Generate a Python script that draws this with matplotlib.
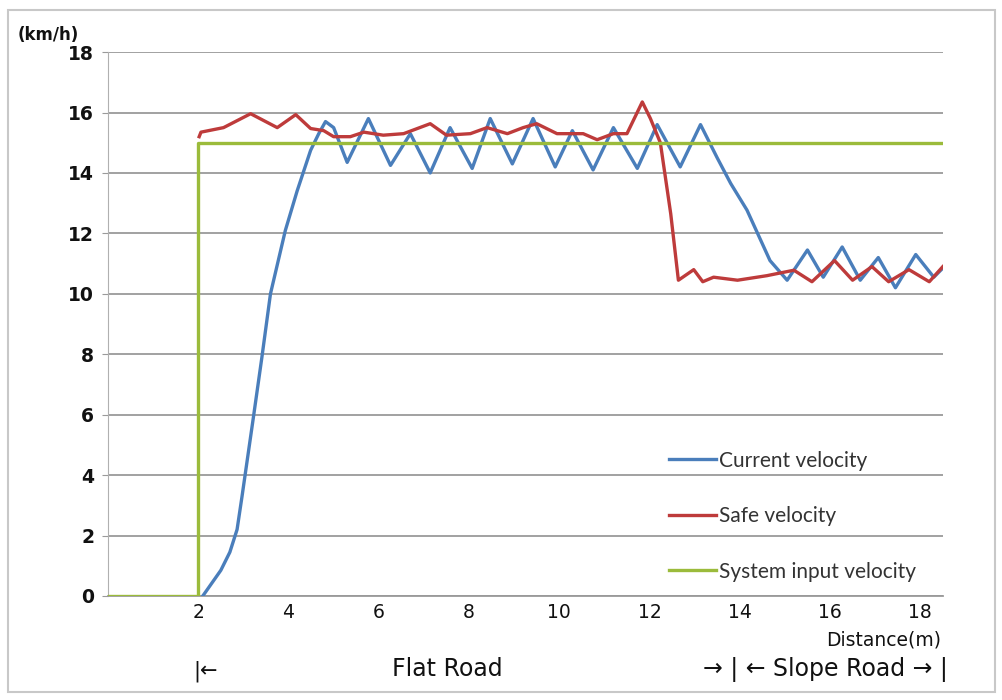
import matplotlib
matplotlib.use('Agg')
import matplotlib.pyplot as plt
from matplotlib.patches import Rectangle

# Current velocity (blue)
cur_x = [2.1, 2.5, 2.7, 2.86, 2.97, 3.23, 3.41, 3.6, 3.93, 4.19, 4.49, 4.67, 4.82, 5.0, 5.3,
         5.77, 6.26, 6.7, 7.14, 7.58, 8.07, 8.47, 8.96, 9.42, 9.91, 10.29, 10.75,
         11.2, 11.73, 12.17, 12.68, 13.13, 13.5, 13.8, 14.16, 14.67, 15.05, 15.5,
         15.85, 16.27, 16.67, 17.07, 17.45, 17.9, 18.3, 18.5]
cur_v = [0.0, 0.85, 1.45, 2.2, 3.3, 6.0, 7.9, 10.0, 12.1, 13.4, 14.75, 15.3, 15.7, 15.5, 14.35,
         15.8, 14.25, 15.3, 14.0, 15.5, 14.15, 15.8, 14.3, 15.8, 14.2, 15.4, 14.1,
         15.5, 14.15, 15.6, 14.2, 15.6, 14.5, 13.65, 12.77, 11.1, 10.45, 11.45,
         10.55, 11.55, 10.45, 11.2, 10.2, 11.3, 10.55, 10.85]

# Safe velocity (red)
safe_x = [2.02, 2.06, 2.56, 3.16, 3.75, 4.16, 4.49, 4.78, 5.0, 5.37, 5.67, 6.1, 6.55,
          7.14, 7.5, 8.03, 8.4, 8.85, 9.2, 9.5, 9.95, 10.53, 10.84, 11.2, 11.5, 11.84,
          12.02, 12.24, 12.47, 12.64, 12.98, 13.18, 13.42, 13.95, 14.6, 14.93, 15.2,
          15.6, 16.1, 16.5, 16.93, 17.3, 17.75, 18.2, 18.5]
safe_v = [15.2, 15.35, 15.5, 15.96, 15.5, 15.93, 15.47, 15.4, 15.2, 15.2, 15.35, 15.25, 15.3,
          15.63, 15.25, 15.3, 15.5, 15.3, 15.5, 15.63, 15.3, 15.3, 15.1, 15.3, 15.3, 16.35,
          15.8, 15.0, 12.65, 10.45, 10.8, 10.4, 10.55, 10.45, 10.6, 10.7, 10.78,
          10.4, 11.1, 10.45, 10.9, 10.4, 10.8, 10.4, 10.9]

# System input velocity (green)
sys_x = [0, 2, 2, 18.5]
sys_v = [0, 0, 15, 15]

y_ticks = [0, 2, 4, 6, 8, 10, 12, 14, 16, 18]
x_ticks = [2, 4, 6, 8, 10, 12, 14, 16, 18]

c_blue = '#4a7ebb'
c_red = '#be3b3b'
c_green = '#9bbb3b'
c_grid = '#9a9a9a'

fig = plt.figure(figsize=(10.03, 7.0), dpi=100)
fig.patches.append(Rectangle((0.008, 0.012), 0.984, 0.974, transform=fig.transFigure,
                             fill=False, edgecolor='#c8c8c8', lw=1.5))
ax = fig.add_axes([0.1077, 0.1486, 0.8323, 0.777])

ax.plot(cur_x, cur_v, color=c_blue, lw=2.4, label='Current velocity', zorder=3)
ax.plot(safe_x, safe_v, color=c_red, lw=2.4, label='Safe velocity', zorder=4)
ax.plot(sys_x, sys_v, color=c_green, lw=2.4, label='System input velocity', zorder=5)

ax.set_xlim(0, 18.5)
ax.set_ylim(0, 18)
ax.set_yticks(y_ticks)
ax.set_xticks(x_ticks)
ax.set_yticklabels([str(v) for v in y_ticks], fontsize=13.5, fontweight='bold', color='#111')
ax.set_xticklabels([str(v) for v in x_ticks], fontsize=13.5, color='#111')
ax.tick_params(axis='x', length=0, pad=5)
ax.tick_params(axis='y', length=4, color=c_grid, pad=6)
ax.grid(axis='y', color=c_grid, lw=1.3)
ax.set_axisbelow(True)
for s in ['top', 'right']:
    ax.spines[s].set_visible(False)
ax.spines['left'].set_color('#b0b0b0')
ax.spines['bottom'].set_color(c_grid)
ax.spines['bottom'].set_linewidth(1.3)

leg = ax.legend(loc='lower left', bbox_to_anchor=(0.649, -0.008), frameon=False,
                handlelength=2.3, handletextpad=0.1, labelspacing=1.7,
                prop={'family': 'Lato', 'size': 15})
for t in leg.get_texts():
    t.set_color('#333')

fig.text(0.018, 0.943, '(km/h)', fontsize=12, fontweight='bold', color='#111')
fig.text(0.938, 0.078, 'Distance(m)', fontsize=13.5, ha='right', color='#111')
fig.text(0.193, 0.034, '|←', fontsize=15, color='#111')
fig.text(0.446, 0.034, 'Flat Road', fontsize=17, ha='center', color='#111')
fig.text(0.945, 0.034, '→ | ← Slope Road → |', fontsize=17, ha='right', color='#111')

fig.savefig('out.png', dpi=100)
